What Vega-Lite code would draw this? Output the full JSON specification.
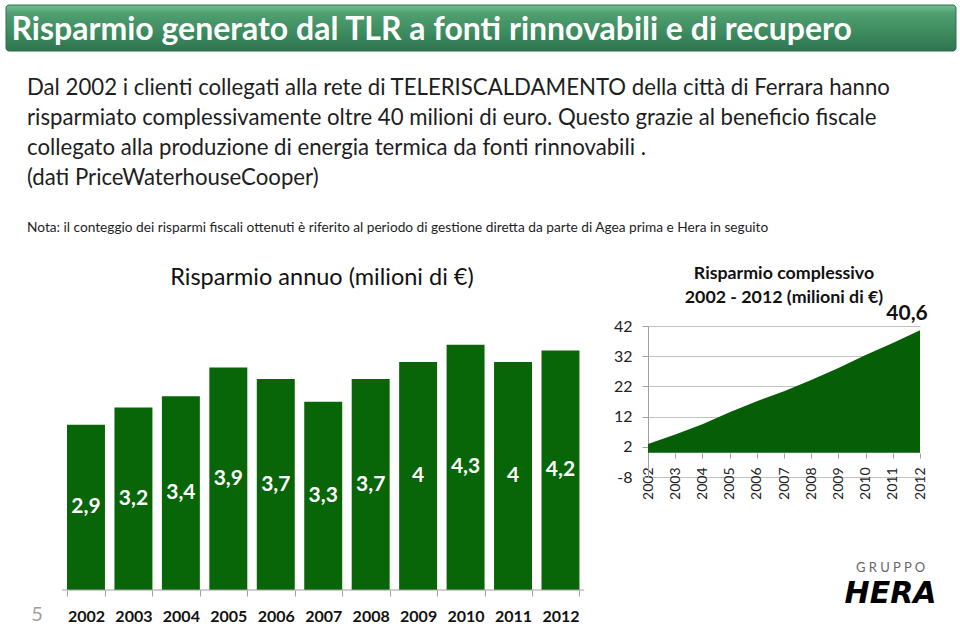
{
  "$schema": "https://vega.github.io/schema/vega-lite/v6.json",
  "background": "white",
  "padding": {"left": 5, "top": 4, "right": 0, "bottom": 0},
  "config": {
    "font": "Lato",
    "view": {"stroke": null},
    "locale": {"number": {"decimal": ",", "thousands": ".", "grouping": [3], "currency": ["€", ""], "minus": "-"}}
  },
  "datasets": {
    "d": [
      {"year": 2002, "annual": 2.9, "cumulative": 2.9},
      {"year": 2003, "annual": 3.2, "cumulative": 6.1},
      {"year": 2004, "annual": 3.4, "cumulative": 9.5},
      {"year": 2005, "annual": 3.9, "cumulative": 13.4},
      {"year": 2006, "annual": 3.7, "cumulative": 17.1},
      {"year": 2007, "annual": 3.3, "cumulative": 20.4},
      {"year": 2008, "annual": 3.7, "cumulative": 24.1},
      {"year": 2009, "annual": 4, "cumulative": 28.1},
      {"year": 2010, "annual": 4.3, "cumulative": 32.4},
      {"year": 2011, "annual": 4, "cumulative": 36.4},
      {"year": 2012, "annual": 4.2, "cumulative": 40.6}
    ],
    "header": [{"k": 1}]
  },
  "spacing": 24,
  "vconcat": [
    {
      "width": 950,
      "height": 46,
      "data": {"name": "header"},
      "mark": {
        "type": "rect",
        "cornerRadius": 3,
        "stroke": "#2b6e47",
        "strokeWidth": 1,
        "color": {
          "gradient": "linear",
          "x1": 0, "y1": 0, "x2": 0, "y2": 1,
          "stops": [
            {"offset": 0, "color": "#74bf93"},
            {"offset": 0.18, "color": "#4f9f71"},
            {"offset": 0.6, "color": "#3d8b5e"},
            {"offset": 1, "color": "#2f7450"}
          ]
        }
      },
      "encoding": {},
      "title": {
        "text": "Risparmio generato dal TLR a fonti rinnovabili e di recupero",
        "anchor": "start",
        "orient": "top",
        "offset": -42,
        "dx": 6,
        "color": "white",
        "font": "Lato",
        "fontSize": 32,
        "fontWeight": "bold"
      }
    },
    {
      "title": {
        "text": [
          "Dal 2002 i clienti collegati alla rete di TELERISCALDAMENTO della città di Ferrara hanno",
          "risparmiato complessivamente oltre 40 milioni di euro. Questo grazie al beneficio fiscale",
          "collegato alla produzione di energia termica da fonti rinnovabili .",
          "(dati PriceWaterhouseCooper)"
        ],
        "subtitle": "Nota: il conteggio dei risparmi fiscali ottenuti è riferito al periodo di gestione diretta da parte di Agea  prima e Hera in seguito",
        "anchor": "start",
        "dx": 21,
        "fontSize": 22.2,
        "fontWeight": "normal",
        "lineHeight": 30,
        "color": "#1e1e1e",
        "subtitleFontSize": 13.7,
        "subtitleColor": "#1e1e1e",
        "subtitlePadding": 32,
        "offset": 31
      },
      "spacing": 28,
      "hconcat": [
        {
          "width": 578,
          "height": 264,
          "data": {"name": "d"},
          "title": {
            "text": "Risparmio annuo (milioni di €)",
            "fontSize": 23.5,
            "fontWeight": "normal",
            "color": "#111",
            "offset": 37,
            "dx": 27
          },
          "resolve": {"scale": {"y": "independent"}},
          "layer": [
            {
              "mark": {"type": "bar", "color": "#086508"},
              "encoding": {
                "x": {
                  "field": "year",
                  "type": "ordinal",
                  "scale": {"paddingInner": 0.2, "paddingOuter": 0.6906, "align": 0.9307},
                  "axis": {
                    "title": "5",
                    "titleAngle": 0,
                    "titleX": 30.5,
                    "titleY": 24,
                    "titleAlign": "center",
                    "titleBaseline": "middle",
                    "titleFontSize": 20,
                    "titleFontWeight": "normal",
                    "titleColor": "#a0a0a0",
                    "labelAngle": 0,
                    "labelFontSize": 16,
                    "labelFontWeight": "bold",
                    "labelColor": "#111",
                    "labelPadding": 12,
                    "domain": false,
                    "tickColor": "#a0a0a0",
                    "tickSize": 6,
                    "tickBand": "extent"
                  }
                },
                "y": {"field": "annual", "type": "quantitative", "scale": {"domain": [0, 4.63], "nice": false}, "axis": null}
              }
            },
            {
              "mark": {"type": "tick", "orient": "horizontal", "size": 47.6, "thickness": 1, "color": "#a0a0a0", "opacity": 1},
              "encoding": {
                "x": {"field": "year", "type": "ordinal"},
                "y": {"datum": 0, "type": "quantitative", "scale": {"domain": [0, 1], "nice": false}, "axis": null}
              }
            },
            {
              "mark": {"type": "text", "color": "white", "fontSize": 21, "fontWeight": "bold", "baseline": "middle"},
              "encoding": {
                "x": {"field": "year", "type": "ordinal"},
                "y": {"field": "annual", "type": "quantitative", "scale": {"domain": [0, 9.26], "nice": false}, "axis": null},
                "text": {"field": "annual", "type": "quantitative", "format": ".1~f"}
              }
            }
          ]
        },
        {
          "width": 272,
          "height": 151,
          "data": {"name": "d"},
          "title": {
            "text": ["Risparmio complessivo", "2002 - 2012 (milioni di €)"],
            "fontSize": 17.8,
            "fontWeight": "bold",
            "lineHeight": 24,
            "color": "#111",
            "offset": -4
          },
          "layer": [
            {
              "mark": {"type": "area", "color": "#065f06", "opacity": 1},
              "encoding": {
                "x": {
                  "field": "year",
                  "type": "ordinal",
                  "scale": {"type": "point", "padding": 0},
                  "axis": {
                    "offset": -24,
                    "labelAngle": 270,
                    "labelFontSize": 14,
                    "labelColor": "#222",
                    "labelPadding": 9,
                    "labelOverlap": false,
                    "domain": false,
                    "tickColor": "#a0a0a0",
                    "tickSize": 5,
                    "title": "G R U P P O",
                    "titleX": 242,
                    "titleY": 114,
                    "titleAlign": "center",
                    "titleBaseline": "middle",
                    "titleFontSize": 13,
                    "titleFontWeight": "normal",
                    "titleColor": "#666"
                  }
                },
                "y": {
                  "field": "cumulative",
                  "type": "quantitative",
                  "scale": {"domain": [-8, 42], "nice": false, "zero": false},
                  "axis": {
                    "values": [-8, 2, 12, 22, 32, 42],
                    "tickCount": 12,
                    "format": "d",
                    "labelOverlap": false,
                    "labelFontSize": 16,
                    "labelColor": "#222",
                    "labelPadding": 10,
                    "tickSize": 6,
                    "tickColor": "#a0a0a0",
                    "domainColor": "#a0a0a0",
                    "gridColor": "#c0c0c0",
                    "title": "HERA",
                    "titleAngle": 0,
                    "titleX": 242,
                    "titleY": 267,
                    "titleAlign": "center",
                    "titleBaseline": "middle",
                    "titleFontSize": 30,
                    "titleFont": "DejaVu Sans",
                    "titleFontWeight": "bold",
                    "titleFontStyle": "italic",
                    "titleColor": "#000"
                  }
                },
                "y2": {"datum": 0}
              }
            },
            {
              "transform": [{"filter": "datum.year == 2012"}],
              "mark": {"type": "text", "fontSize": 21, "fontWeight": "bold", "color": "#111", "dx": -13, "dy": -16, "baseline": "middle"},
              "encoding": {
                "x": {"field": "year", "type": "ordinal"},
                "y": {"field": "cumulative", "type": "quantitative"},
                "text": {"field": "cumulative", "type": "quantitative", "format": ".1~f"}
              }
            }
          ]
        }
      ]
    }
  ]
}
